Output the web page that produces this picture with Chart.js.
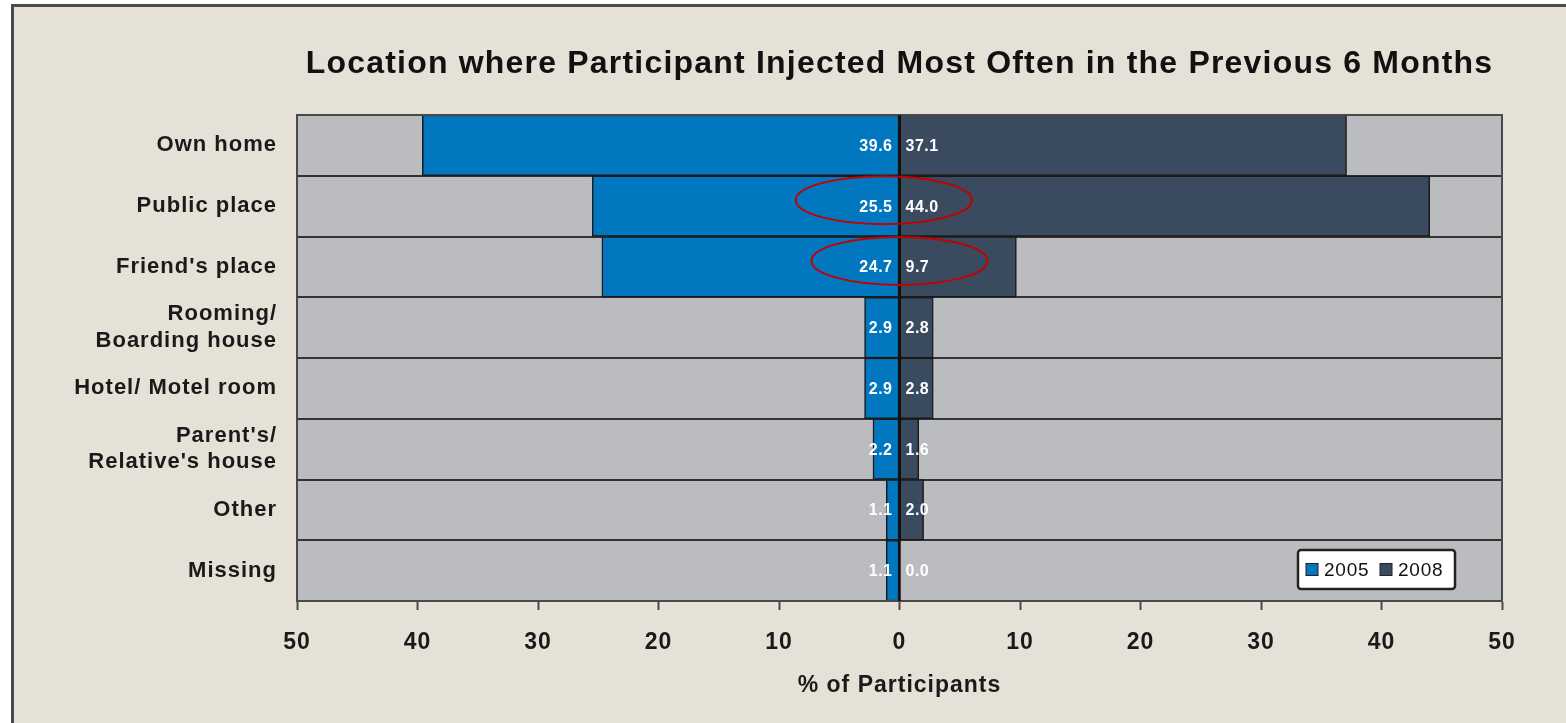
<!DOCTYPE html>
<html>
<head>
<meta charset="utf-8">
<script src="https://cdn.jsdelivr.net/npm/chart.js@4/dist/chart.umd.min.js"></script>
<style>
  body { margin: 0; background: #fff; }
  #wrap { width: 1566px; height: 723px; }
</style>
</head>
<body>
<div id="wrap"><canvas id="locChart" width="1566" height="723"></canvas></div>
<script>
// Data
const locations = ['Own home', 'Public place', "Friend's place", ['Rooming/', 'Boarding house'],
  'Hotel/ Motel room', ["Parent's/", "Relative's house"], 'Other', 'Missing'];
const pct2005 = [39.6, 25.5, 24.7, 2.9, 2.9, 2.2, 1.1, 1.1];
const pct2008 = [37.1, 44.0, 9.7, 2.8, 2.8, 1.6, 2.0, 0.0];
const xTicks = [-50, -40, -30, -20, -10, 0, 10, 20, 30, 40, 50];
// rows circled in red, and where the ellipse is centred (in % units)
const circledRows = [1, 2];
const circleCentres = [-1.3, 0];

const chartTitle = 'Location where Participant Injected Most Often in the Previous 6 Months';
const fontFamily = '"Liberation Sans", Arial, Helvetica, sans-serif';
Chart.defaults.font.family = fontFamily;

const blue = '#0077bf';
const slate = '#3a4b5f';

// background, frame, plot fill, title
const backdrop = {
  id: 'backdrop',
  beforeDraw(chart) {
    const { ctx, chartArea: a } = chart;
    ctx.save();
    ctx.fillStyle = '#ffffff';
    ctx.fillRect(0, 0, chart.width, chart.height);
    ctx.fillStyle = '#e5e1d7';
    ctx.fillRect(12, 5, chart.width, chart.height);
    ctx.strokeStyle = '#4a4a4a';
    ctx.lineWidth = 3;
    ctx.beginPath();
    ctx.moveTo(12.5, chart.height);
    ctx.lineTo(12.5, 5.5);
    ctx.lineTo(chart.width, 5.5);
    ctx.stroke();
    ctx.fillStyle = '#bbbcc0';
    ctx.fillRect(a.left, a.top, a.right - a.left, a.bottom - a.top);
    ctx.fillStyle = '#111';
    ctx.font = 'bold 32px ' + fontFamily;
    ctx.letterSpacing = '1.2px';
    ctx.textAlign = 'center';
    ctx.textBaseline = 'middle';
    ctx.fillText(chartTitle, (a.left + a.right) / 2, 64);
    ctx.restore();
    // the original's axis text is set a little loose
    ctx.letterSpacing = '1px';
  },
  afterDraw(chart) {
    chart.ctx.letterSpacing = '0px';
  }
};

// zero line, plot border, values, legend, red ellipses
const overlay = {
  id: 'overlay',
  afterDatasetsDraw(chart) {
    const { ctx, chartArea: a, scales: { x, y } } = chart;
    const x0 = x.getPixelForValue(0);
    ctx.save();
    ctx.strokeStyle = '#4a4a4a';
    ctx.lineWidth = 2;
    ctx.strokeRect(a.left, a.top, a.right - a.left, a.bottom - a.top);
    ctx.strokeStyle = '#111';
    ctx.lineWidth = 2.5;
    ctx.beginPath();
    ctx.moveTo(x0, a.top);
    ctx.lineTo(x0, a.bottom);
    ctx.stroke();

    ctx.font = 'bold 16px ' + fontFamily;
    ctx.letterSpacing = '0.5px';
    ctx.fillStyle = '#fff';
    ctx.textBaseline = 'middle';
    pct2005.forEach((v, i) => {
      const yc = y.getPixelForValue(i) + 1;
      ctx.textAlign = 'right';
      ctx.fillText(v.toFixed(1), x0 - 7, yc);
      ctx.textAlign = 'left';
      ctx.fillText(pct2008[i].toFixed(1), x0 + 6, yc);
    });

    // legend box
    const lw = 157, lh = 39;
    const lx = a.right - 47 - lw, ly = a.bottom - 12 - lh;
    ctx.fillStyle = '#fff';
    ctx.strokeStyle = '#222';
    ctx.lineWidth = 2.5;
    ctx.beginPath();
    ctx.roundRect(lx, ly, lw, lh, 3);
    ctx.fill();
    ctx.stroke();
    ctx.font = '19px ' + fontFamily;
    ctx.letterSpacing = '0.8px';
    ctx.textAlign = 'left';
    let cx = lx + 8;
    chart.data.datasets.forEach(ds => {
      ctx.fillStyle = ds.backgroundColor;
      ctx.strokeStyle = '#222';
      ctx.lineWidth = 1;
      ctx.fillRect(cx, ly + lh / 2 - 6, 12, 12);
      ctx.strokeRect(cx, ly + lh / 2 - 6, 12, 12);
      ctx.fillStyle = '#111';
      ctx.fillText(ds.label, cx + 18, ly + lh / 2 + 1);
      cx += 74;
    });

    // red ellipses
    ctx.strokeStyle = '#c40000';
    ctx.lineWidth = 2;
    circledRows.forEach((r, k) => {
      const ex = x.getPixelForValue(circleCentres[k]);
      const ey = y.getPixelForValue(r) - 6;
      ctx.beginPath();
      ctx.ellipse(ex, ey, 88, 24, 0, 0, Math.PI * 2);
      ctx.stroke();
    });
    ctx.restore();
  }
};

const ctx = document.getElementById('locChart').getContext('2d');
const locChart = new Chart(ctx, {
  type: 'bar',
  data: {
    labels: locations,
    datasets: [
      {
        label: '2005',
        data: pct2005.map(v => -v),
        backgroundColor: blue,
        borderColor: '#1a1a1a',
        borderWidth: 1.5,
        borderSkipped: false,
        categoryPercentage: 1,
        barPercentage: 1
      },
      {
        label: '2008',
        data: pct2008,
        backgroundColor: slate,
        borderColor: '#1a1a1a',
        borderWidth: 1.5,
        borderSkipped: false,
        categoryPercentage: 1,
        barPercentage: 1
      }
    ]
  },
  options: {
    indexAxis: 'y',
    responsive: false,
    animation: false,
    layout: { padding: { top: 115, right: 64, left: 0, bottom: 0 } },
    plugins: {
      legend: { display: false },
      tooltip: { enabled: false }
    },
    scales: {
      x: {
        stacked: true,
        min: -50,
        max: 50,
        afterBuildTicks: scale => { scale.ticks = xTicks.map(v => ({ value: v })); },
        afterFit: scale => { scale.height = 122; },
        ticks: {
          callback: v => Math.abs(v),
          color: '#1a1a1a',
          font: { size: 23, weight: 'bold' },
          padding: 19,
          maxRotation: 0
        },
        grid: {
          drawOnChartArea: false,
          tickLength: 9,
          tickColor: '#4a4a4a',
          tickWidth: 2
        },
        border: { color: '#4a4a4a', width: 2 },
        title: {
          display: true,
          text: '% of Participants',
          color: '#1a1a1a',
          font: { size: 23, weight: 'bold' },
          padding: { top: 0, bottom: 24 }
        }
      },
      y: {
        stacked: true,
        afterFit: scale => { scale.width = 297; },
        ticks: {
          color: '#1a1a1a',
          font: { size: 22, weight: 'bold', lineHeight: 1.2 },
          padding: 20
        },
        grid: {
          offset: true,
          drawTicks: false,
          color: '#333',
          lineWidth: 2
        },
        border: { color: '#4a4a4a', width: 2 }
      }
    }
  },
  plugins: [backdrop, overlay]
});
</script>
</body>
</html>
